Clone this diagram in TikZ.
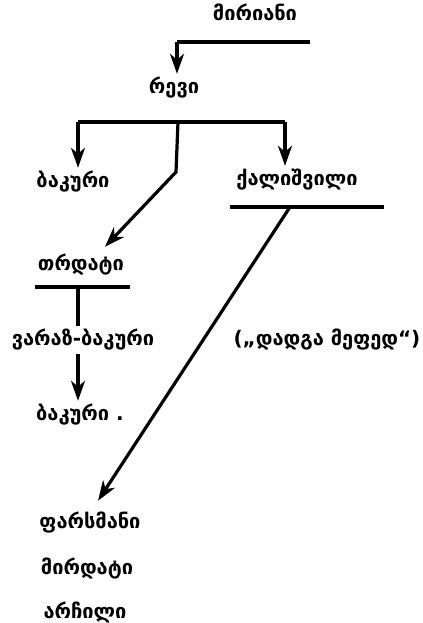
\documentclass[tikz,border=0pt]{standalone}
\usepackage{fontspec}
\setmainfont{DejaVu Sans}
\usetikzlibrary{
    arrows.meta,
    positioning
}

\begin{document}
\begin{tikzpicture}[
    x=0.5pt,
    y=-0.5pt,
    >={Stealth[length=10pt,width=7pt,inset=3pt]},
    line width=1.6pt,
    person/.style={
        font=\bfseries\fontsize{10}{12}\selectfont,
        inner sep=1pt
    }
]
\useasboundingbox (0,0) rectangle (423,623);

%--------------------------------------------------
\node[person] (mirian) at (255,12) {მირიანი};
\node[person] (rev) at (174,88) {რევი};
\node[person] (bakur1) at (73,182) {ბაკური};
\node[person] (daughter) at (297,180) {ქალიშვილი};
\node[person] (trdat) at (81,265) {თრდატი};
\node[person] (varaz) at (83,340) {ვარაზ-ბაკური};
\node[person] (bakur2) at (80,415) {ბაკური .};
\node[person] (note) at (327,340) {(„დადგა მეფედ“)};
\node[person] (pharsman) at (90,523) {ფარსმანი};
\node[person] (mirdat) at (87,569) {მირდატი};
\node[person] (archil) at (85,612) {არჩილი};

% bars
\coordinate (mirL) at (177,42);
\coordinate (mirR) at (310,42);
\coordinate (revL) at (78,122);
\coordinate (revM) at (178,122);
\coordinate (revR) at (285,122);
\coordinate (bend) at (176,172);
\coordinate (dauL) at (230,207);
\coordinate (dauM) at (290,207);
\coordinate (dauR) at (384,207);
\coordinate (trdL) at (35,287);
\coordinate (trdM) at (78,287);
\coordinate (trdR) at (130,287);

%--------------------------------------------------
\draw (mirL) -- (mirR);
\draw[->] (mirL) -- (mirL |- rev.north);

\draw (revL) -- (revR);
\draw[->] (revL) -- (revL |- bakur1.north);
\draw[->] (revR) -- (revR |- daughter.north);
\draw[->] (revM) -- (bend) -- ([xshift=12pt,yshift=2pt]trdat.north);

\draw (dauL) -- (dauR);
\draw[->] (dauM) -- ([xshift=4pt,yshift=4pt]pharsman.north);

\draw (trdL) -- (trdR);
\draw (trdM) -- (trdM |- varaz.north);
\draw[->] (varaz.south -| trdM) -- (trdM |- bakur2.north);

\end{tikzpicture}
\end{document}
